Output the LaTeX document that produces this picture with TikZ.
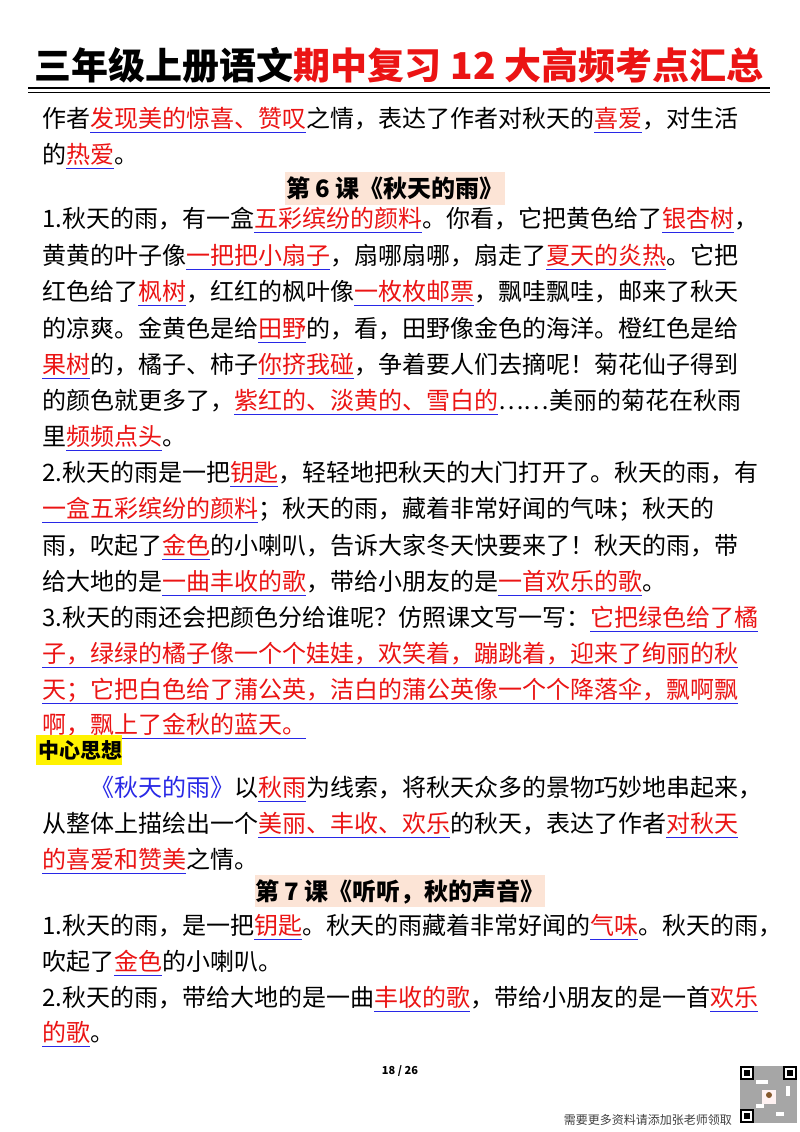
\documentclass[tikz,border=0pt]{standalone}
\usepackage{fontspec}
\setmainfont{Noto Sans CJK SC}
\newfontfamily\cjk{Noto Sans CJK SC}
\definecolor{hred}{RGB}{235,20,20}
\definecolor{hblue}{RGB}{40,40,230}
\definecolor{peach}{RGB}{252,228,214}
\newsavebox\hlbox
\newcommand\hl[1]{\leavevmode\sbox\hlbox{\color{hred}#1}\rlap{\textcolor{hblue}{\rule[-6pt]{\wd\hlbox}{1.3pt}}}\usebox\hlbox}
\newcommand\bl[1]{\textcolor{hblue}{#1}}
\tikzset{txt/.style={anchor=base west,inner sep=0pt,font=\fontsize{24}{24}\selectfont},
 hdr/.style={anchor=base,inner sep=0pt,font=\fontsize{24}{24}\selectfont\bfseries}}
\begin{document}
\begin{tikzpicture}[x=1pt,y=-1pt]
\useasboundingbox (0,0) rectangle (800,1132);
\fill[white] (0,0) rectangle (800,1132);
\node[anchor=base,inner sep=0pt,font=\fontsize{37}{37}\selectfont\bfseries] (title) at (399,80) {三年级上册语文\textcolor{hred}{期中复习 12 大高频考点汇总}};
\draw[line width=2.2pt] (28,88) coordinate (r1) -- (770,88) coordinate (r2);
\draw[line width=1.6pt] (28,92.5) coordinate (r3) -- (770,92.5) coordinate (r4);
\node[txt] (l1) at (42,127) {作者\hl{发现美的惊喜、赞叹}之情，表达了作者对秋天的\hl{喜爱}，对生活};
\node[txt] (l2) at (42,163) {的\hl{热爱}。};
\fill[peach] (285,172) rectangle (505,205);
\node[hdr] (h6) at (395,197) {第 6 课《秋天的雨》};
\node[txt] (a1) at (42,227) {1.秋天的雨，有一盒\hl{五彩缤纷的颜料}。你看，它把黄色给了\hl{银杏树}，};
\node[txt] (a2) at (42,264) {黄黄的叶子像\hl{一把把小扇子}，扇哪扇哪，扇走了\hl{夏天的炎热}。它把};
\node[txt] (a3) at (42,300) {红色给了\hl{枫树}，红红的枫叶像\hl{一枚枚邮票}，飘哇飘哇，邮来了秋天};
\node[txt] (a4) at (42,337) {的凉爽。金黄色是给\hl{田野}的，看，田野像金色的海洋。橙红色是给};
\node[txt] (a5) at (42,373) {\hl{果树}的，橘子、柿子\hl{你挤我碰}，争着要人们去摘呢！菊花仙子得到};
\node[txt] (a6) at (42,409) {的颜色就更多了，\hl{紫红的、淡黄的、雪白的}……美丽的菊花在秋雨};
\node[txt] (a7) at (42,445) {里\hl{频频点头}。};
\node[txt] (b1) at (42,481) {2.秋天的雨是一把\hl{钥匙}，轻轻地把秋天的大门打开了。秋天的雨，有};
\node[txt] (b2) at (42,517) {\hl{一盒五彩缤纷的颜料}；秋天的雨，藏着非常好闻的气味；秋天的};
\node[txt] (b3) at (42,554) {雨，吹起了\hl{金色}的小喇叭，告诉大家冬天快要来了！秋天的雨，带};
\node[txt] (b4) at (42,590) {给大地的是\hl{一曲丰收的歌}，带给小朋友的是\hl{一首欢乐的歌}。};
\node[txt] (c1) at (42,626) {3.秋天的雨还会把颜色分给谁呢？仿照课文写一写：\hl{它把绿色给了橘}};
\node[txt] (c2) at (42,662) {\hl{子，绿绿的橘子像一个个娃娃，欢笑着，蹦跳着，迎来了绚丽的秋}};
\node[txt] (c3) at (42,698) {\hl{天；它把白色给了蒲公英，洁白的蒲公英像一个个降落伞，飘啊飘}};
\node[txt] (c4) at (42,733) {\hl{啊，飘上了金秋的蓝天。}};
\fill[yellow] (36,735) rectangle (122,765);
\node[txt,font=\fontsize{21}{21}\selectfont\bfseries] (zx) at (38,758) {中心思想};
\node[txt] (d1) at (90,796) {\bl{《秋天的雨》}以\hl{秋雨}为线索，将秋天众多的景物巧妙地串起来，};
\node[txt] (d2) at (42,832) {从整体上描绘出一个\hl{美丽、丰收、欢乐}的秋天，表达了作者\hl{对秋天}};
\node[txt] (d3) at (42,868) {\hl{的喜爱和赞美}之情。};
\fill[peach] (255,875) rectangle (545,907);
\node[hdr] (h7) at (400,900) {第 7 课《听听，秋的声音》};
\node[txt] (e1) at (42,934) {1.秋天的雨，是一把\hl{钥匙}。秋天的雨藏着非常好闻的\hl{气味}。秋天的雨，};
\node[txt] (e2) at (42,970) {吹起了\hl{金色}的小喇叭。};
\node[txt] (e3) at (42,1006) {2.秋天的雨，带给大地的是一曲\hl{丰收的歌}，带给小朋友的是一首\hl{欢乐}};
\node[txt] (e4) at (42,1041) {\hl{的歌}。};
\node[anchor=base,inner sep=0pt,font=\fontsize{11}{11}\selectfont\bfseries] (pg) at (400,1074) {18 / 26};
\node[anchor=base east,inner sep=0pt,font=\fontsize{12}{12}\selectfont,text=black!75] (ft) at (732,1124) {需要更多资料请添加张老师领取};
% QR code
\fill[black!35] (740,1066) rectangle (797,1123);
\foreach \x/\y in {740/1066,783/1066,740/1109}{
  \fill[black] (\x,\y) rectangle ++(14,14);
  \fill[white] (\x+2,\y+2) rectangle ++(10,10);
  \fill[black] (\x+4,\y+4) rectangle ++(6,6);}
\fill[white] (756,1080) rectangle (768,1084);
\fill[white] (770,1090) rectangle (774,1100);
\fill[white] (756,1104) rectangle (764,1108);
\fill[white] (786,1086) rectangle (790,1096);
\fill[white] (776,1112) rectangle (784,1116);
\fill[white!80!pink] (762,1090) rectangle (776,1104);
\fill[brown!70!black] (769,1095) circle (3);
\end{tikzpicture}
\end{document}
